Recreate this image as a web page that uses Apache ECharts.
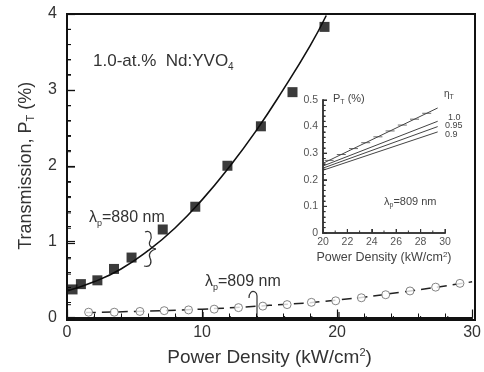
<!DOCTYPE html>
<html><head><meta charset="utf-8">
<script src="https://cdn.jsdelivr.net/npm/echarts@6/dist/echarts.min.js"></script>
<style>html,body{margin:0;padding:0;background:#fff}#c{width:484px;height:372px}</style>
</head><body><div id="c"></div>
<script>
// 880 nm measured (filled squares)
const sq880X = [0.41,1.03,2.25,3.48,4.78,7.09,9.5,11.88,14.36,16.7,19.07];
const sq880Y = [0.37,0.44,0.49,0.64,0.79,1.16,1.46,2.0,2.52,2.97,3.83];
// 880 nm fit curve
const fit880X = [0,2,4,6,8,10,12,14,16,18,19.2];
const fit880Y = [0.35,0.47,0.64,0.88,1.18,1.55,1.98,2.46,3.0,3.58,3.98];
// 809 nm measured (open circles)
const c809X = [1.6,3.5,5.4,7.2,9.0,10.9,12.7,14.5,16.3,18.1,19.9,21.8,23.6,25.4,27.3,29.1];
const c809Y = [0.07,0.07,0.08,0.09,0.1,0.11,0.13,0.15,0.17,0.2,0.22,0.26,0.3,0.35,0.4,0.45];
// 809 nm fit (dashed)
const fit809X = [1.4,5,10,15,20,25,30];
const fit809Y = [0.065,0.08,0.11,0.16,0.23,0.34,0.47];
// inset
const insX = [20,29.4];
const insData = [0.262,0.47];
const ins10 = [0.252,0.42];
const ins095 = [0.244,0.40];
const ins09 = [0.236,0.38];
const insDataPtsX = [20.5,21.5,22.5,23.5,24.5,25.5,26.5,27.5,28.5];
const insLabels = ['1.0','0.95','0.9'];
// tick positions
const mainXTicks = [0,10,20,30];
const mainYTicks = [0,1,2,3,4];
const insXTicks = [20,22,24,26,28,30];
const insYTicks = [0,0.1,0.2,0.3,0.4,0.5];

const W = 484, H = 372;
const G0 = {left:67, right:9, top:14, bottom:52};
const G1 = {left:323, right:39, top:100, bottom:139};

const zip = (a,b)=>a.map((v,i)=>[v,b[i]]);
const txt = '#333';
const chart = echarts.init(document.getElementById('c'), null, {renderer:'canvas'});
function interp(x){
  return insData[0] + (insData[1]-insData[0])*(x-insX[0])/(insX[1]-insX[0]);
}
function bez(x1,y1,c1x,c1y,c2x,c2y,x2,y2){
  return {type:'bezierCurve', shape:{x1:x1,y1:y1,cpx1:c1x,cpy1:c1y,cpx2:c2x,cpy2:c2y,x2:x2,y2:y2},
    style:{stroke:'#333', fill:null, lineWidth:1.2}};
}
function minors(t, n){
  const out=[];
  for (let i=0;i<t.length-1;i++) for (let k=1;k<n;k++) out.push(t[i]+(t[i+1]-t[i])*k/n);
  return out;
}
// frame and ticks as filled rectangles in the grid's layout box
function frameRects(g, xt, yt, xn, yn, box, color, w, maj, mn){
  const L = g.left, R = W - g.right, T = g.top, B = H - g.bottom;
  const x0=xt[0], x1=xt[xt.length-1], y0=yt[0], y1=yt[yt.length-1];
  const px = v => L + (v - x0) / (x1 - x0) * (R - L);
  const py = v => B - (v - y0) / (y1 - y0) * (B - T);
  const out = [];
  const Rc = (x,y,ww,hh)=>out.push({type:'rect', z:100, shape:{x:x,y:y,width:ww,height:hh}, style:{fill:color}});
  Rc(L - w/2, B - w/2, R - L + w, w);
  Rc(L - w/2, T - w/2, w, B - T + w);
  if (box){ Rc(L - w/2, T - w/2, R - L + w, w); Rc(R - w/2, T - w/2, w, B - T + w); }
  xt.forEach(v=>Rc(px(v) - 0.6, B - maj, 1.2, maj));
  minors(xt,xn).forEach(v=>Rc(px(v) - 0.5, B - mn, 1, mn));
  yt.forEach(v=>Rc(L, py(v) - 0.6, maj, 1.2));
  minors(yt,yn).forEach(v=>Rc(L, py(v) - 0.5, mn, 1));
  return out;
}
const annotations = [
  {type:'text', left:93, top:53, style:{text:'1.0-at.%  Nd:YVO{s|4}', font:'17px "Liberation Sans"', fill:txt,
    rich:{s:{fontSize:10, verticalAlign:'bottom', padding:[12,0,0,0]}}}},
  {type:'text', left:89, top:210, style:{text:'λ{s|p}=880 nm', font:'16px "Liberation Sans"', fill:txt,
    rich:{s:{fontSize:9, verticalAlign:'bottom', padding:[11,0,0,0]}}}},
  {type:'text', left:205, top:274, style:{text:'λ{s|p}=809 nm', font:'16px "Liberation Sans"', fill:txt,
    rich:{s:{fontSize:9, verticalAlign:'bottom', padding:[11,0,0,0]}}}},
  bez(145,232, 152,229, 152,238, 150,241),
  bez(150,241, 148,245, 151,248, 156,249),
  bez(156,249, 151,250, 148,254, 150,258),
  bez(150,258, 152,262, 151,268, 144,266),
  bez(249,298, 249,293, 252,290, 255,292),
  {type:'line', shape:{x1:257,y1:296,x2:257,y2:318}, style:{stroke:'#333', lineWidth:1.2}},
  bez(255,292, 257,293, 257,295, 257,296),
  {type:'text', left:333, top:93, style:{text:'P{s|T} (%)', font:'11px "Liberation Sans"', fill:'#444',
    rich:{s:{fontSize:7, verticalAlign:'bottom', padding:[7,0,0,0]}}}},
  {type:'text', left:384, top:196, style:{text:'λ{s|p}=809 nm', font:'11px "Liberation Sans"', fill:'#444',
    rich:{s:{fontSize:7, verticalAlign:'bottom', padding:[8,0,0,0]}}}},
  {type:'text', left:444, top:89, style:{text:'η{s|T}', font:'10px "Liberation Sans"', fill:'#444',
    rich:{s:{fontSize:7, verticalAlign:'bottom', padding:[6,0,0,0]}}}},
  {type:'text', left:448, top:113, style:{text:insLabels[0], font:'9px "Liberation Sans"', fill:'#444'}},
  {type:'text', left:445, top:121, style:{text:insLabels[1], font:'9px "Liberation Sans"', fill:'#444'}},
  {type:'text', left:445, top:130, style:{text:insLabels[2], font:'9px "Liberation Sans"', fill:'#444'}}
].concat(
  frameRects(G0, mainXTicks, mainYTicks, 5, 5, true, '#111', 2, 8, 4),
  frameRects(G1, insXTicks, insYTicks, 2, 5, false, '#333', 1.5, 4, 2.5)
);
const mainAxisLine = {show:true, onZero:false, lineStyle:{color:'#111', width:2}};
const insAxisLine = {show:true, onZero:false, lineStyle:{color:'#333', width:1.5}};
const option = {
  animation:false,
  backgroundColor:'#fff',
  grid:[
    Object.assign({}, G0),
    Object.assign({}, G1)
  ],
  xAxis:[
    {gridIndex:0, type:'value', min:0, max:30, interval:10, axisLine:mainAxisLine,
     axisTick:{show:true, inside:true, length:8, lineStyle:{color:'#111', width:1.2}},
     minorTick:{show:true, splitNumber:5, length:4, lineStyle:{color:'#111'}},
     splitLine:{show:false},
     axisLabel:{fontFamily:'Liberation Sans', fontSize:16, color:txt, margin:7},
     name:'Power Density (kW/cm{sup|2})', nameLocation:'middle', nameGap:30,
     nameTextStyle:{fontFamily:'Liberation Sans', fontSize:19, color:txt,
       rich:{sup:{fontSize:11, verticalAlign:'top', padding:[0,0,9,0], color:txt}}}},
    {gridIndex:1, type:'value', min:20, max:30, interval:2, axisLine:insAxisLine,
     axisTick:{show:true, inside:true, length:4, lineStyle:{color:'#333'}},
     splitLine:{show:false},
     axisLabel:{fontFamily:'Liberation Sans', fontSize:10.5, color:'#555', margin:4},
     name:'Power Density (kW/cm{sup|2})', nameLocation:'middle', nameGap:18,
     nameTextStyle:{fontFamily:'Liberation Sans', fontSize:12.5, color:'#444',
       rich:{sup:{fontSize:8, verticalAlign:'top', padding:[0,0,6,0], color:'#444'}}}}
  ],
  yAxis:[
    {gridIndex:0, type:'value', min:0, max:4, interval:1, axisLine:mainAxisLine,
     axisTick:{show:true, inside:true, length:8, lineStyle:{color:'#111', width:1.2}},
     minorTick:{show:true, splitNumber:5, length:4, lineStyle:{color:'#111'}},
     splitLine:{show:false},
     axisLabel:{fontFamily:'Liberation Sans', fontSize:16, color:txt, margin:10},
     name:'Transmission, P{sub|T} (%)', nameLocation:'middle', nameGap:31,
     nameTextStyle:{fontFamily:'Liberation Sans', fontSize:18, color:txt,
       rich:{sub:{fontSize:11, verticalAlign:'bottom', padding:[9,0,0,0], color:txt}}}},
    {gridIndex:1, type:'value', min:0, max:0.5, interval:0.1, axisLine:insAxisLine,
     axisTick:{show:true, inside:true, length:4, lineStyle:{color:'#333'}},
     minorTick:{show:true, splitNumber:5, length:2.5, lineStyle:{color:'#333'}},
     splitLine:{show:false},
     axisLabel:{fontFamily:'Liberation Sans', fontSize:10.5, color:'#555', margin:5}}
  ],
  series:[
    {type:'line', xAxisIndex:0, yAxisIndex:0, data:zip(fit880X,fit880Y), smooth:true, symbol:'none',
     lineStyle:{color:'#111', width:1.6}, z:3},
    {type:'scatter', xAxisIndex:0, yAxisIndex:0, data:zip(sq880X,sq880Y), symbol:'rect', symbolSize:10,
     itemStyle:{color:'#0a0a0a'}, z:4},
    {type:'line', xAxisIndex:0, yAxisIndex:0, data:zip(fit809X,fit809Y), smooth:true, symbol:'none',
     lineStyle:{color:'#222', width:1.5, type:[10,6]}, z:3},
    {type:'scatter', xAxisIndex:0, yAxisIndex:0, data:zip(c809X,c809Y), symbol:'circle', symbolSize:8,
     itemStyle:{color:'#fff', borderColor:'#666', borderWidth:1}, z:4},
    {type:'line', xAxisIndex:1, yAxisIndex:1, data:zip(insX,insData), symbol:'none', lineStyle:{color:'#444',width:1}},
    {type:'scatter', xAxisIndex:1, yAxisIndex:1, data:insDataPtsX.map(x=>[x,interp(x)]), symbol:'rect', symbolSize:[9,1],
     itemStyle:{color:'#444'}},
    {type:'line', xAxisIndex:1, yAxisIndex:1, data:zip(insX,ins10), symbol:'none', lineStyle:{color:'#444',width:1}},
    {type:'line', xAxisIndex:1, yAxisIndex:1, data:zip(insX,ins095), symbol:'none', lineStyle:{color:'#444',width:1}},
    {type:'line', xAxisIndex:1, yAxisIndex:1, data:zip(insX,ins09), symbol:'none', lineStyle:{color:'#444',width:1}}
  ],
  graphic:annotations
};
chart.setOption(option);
</script></body></html>
